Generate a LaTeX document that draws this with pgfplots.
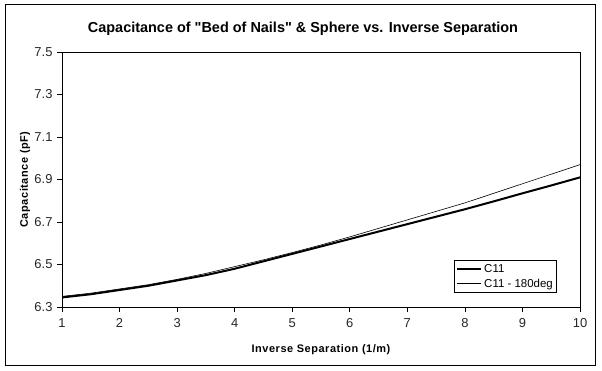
\documentclass[border=0pt]{standalone}
\usepackage{fontspec}
\setmainfont{Liberation Sans}
\usepackage{pgfplots}
\pgfplotsset{compat=1.18}
\begin{document}
\begin{tikzpicture}[x=1bp,y=1bp]
\path[use as bounding box] (0,0) rectangle (602,370);
\draw[line width=1bp] (5,5) rectangle (595,365);
\node[font=\bfseries\fontsize{14.5}{16}\selectfont] at (303,341) {Capacitance of \textquotedbl Bed of Nails\textquotedbl{} \& Sphere vs. Inverse Separation};
\begin{axis}[
  at={(62bp,63bp)}, anchor=south west,
  width=518bp, height=255bp, scale only axis,
  xmin=1, xmax=10, ymin=6.3, ymax=7.5,
  xtick={1,2,...,10},
  ytick={6.3,6.5,6.7,6.9,7.1,7.3,7.5},
  xtick pos=bottom, ytick pos=left,
  tick align=outside, major tick length=5bp,
  tick style={black, line width=0.6bp},
  axis line style={line width=0.8bp},
  /pgf/number format/assume math mode=true,
  yticklabel style={xshift=-1bp, /pgf/number format/.cd, fixed, fixed zerofill, precision=1},
  xticklabel style={yshift=-3bp},
  tick label style={font=\fontsize{13}{15}\selectfont, text=black!85},
  xlabel={Inverse Separation (1/m)},
  ylabel={Capacitance (pF)},
  label style={font=\bfseries\fontsize{11}{13}\selectfont\addfontfeature{LetterSpace=5}},
  xlabel style={at={(axis description cs:0.5,-0.169)}, anchor=center},
  ylabel style={at={(axis description cs:-0.0714,0.5)}, anchor=center},
  legend style={at={(0.956,0.055)}, anchor=south east, draw=black, line width=0.8bp,
    font=\fontsize{11.5}{13}\selectfont, row sep=1bp, inner sep=2bp},
  legend cell align=left,
  legend image code/.code={\draw[#1] (0bp,0bp) -- (24bp,0bp);},
]
\addplot[black, line width=2bp] coordinates {
(1,6.345) (1.5,6.36) (2,6.38) (2.5,6.40) (3,6.425) (3.5,6.45) (4,6.48) (4.5,6.515) (5,6.55) (5.5,6.585) (6,6.62) (6.5,6.655) (7,6.69) (7.5,6.725) (8,6.76) (8.5,6.797) (9,6.835) (9.5,6.872) (10,6.91)};
\addlegendentry{C11}
\addplot[black, line width=0.6bp] coordinates {
(1,6.35) (1.5,6.365) (2,6.385) (2.5,6.405) (3,6.43) (3.5,6.458) (4,6.49) (4.5,6.522) (5,6.556) (5.5,6.592) (6,6.63) (6.5,6.67) (7,6.71) (7.5,6.75) (8,6.79) (8.5,6.835) (9,6.88) (9.5,6.925) (10,6.97)};
\addlegendentry{C11 - 180deg}
\end{axis}
\end{tikzpicture}
\end{document}
